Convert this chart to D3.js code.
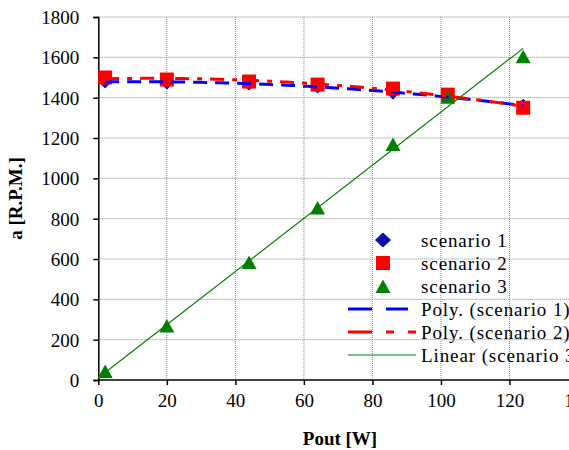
<!DOCTYPE html>
<html>
<head>
<meta charset="utf-8">
<script src="https://cdn.jsdelivr.net/npm/d3@7"></script>
<style>
  body { margin: 0; background: #fff; overflow: hidden; }
  svg { display: block; }
</style>
</head>
<body>
<div id="chart"></div>
<script>
'use strict';

// values
const pout = [2, 20, 44, 64, 86, 102, 124];
const scenario1 = [1480, 1475, 1470, 1455, 1425, 1405, 1360];
const scenario2 = [1500, 1490, 1480, 1465, 1445, 1415, 1350];
const scenario3 = [40, 265, 580, 850, 1165, 1400, 1600];
const xTicks = [0, 20, 40, 60, 80, 100, 120, 140];
const yTicks = [0, 200, 400, 600, 800, 1000, 1200, 1400, 1600, 1800];
const legendLabels = ['scenario 1', 'scenario 2', 'scenario 3',
    'Poly. (scenario 1)', 'Poly. (scenario 2)', 'Linear (scenario 3)'];

const width = 569, height = 450;
const fontFamily = '"Liberation Serif", "Times New Roman", serif';
const fontSize = '19px';
const svg = d3.select('#chart').append('svg')
    .attr('width', width).attr('height', height);

const x = d3.scaleLinear().domain([0, 140]).range([98.3, 578]);
const y = d3.scaleLinear().domain([0, 1800]).range([380, 17]);

// marker shapes
const diamond = 'M0,-6.5L6.5,0L0,6.5L-6.5,0Z';
const triangle = 'M0,-7.5L7.5,6L-7.5,6Z';

// least squares polynomial fit (trendlines like the spreadsheet does)
function polyFit(xs, ys, order) {
    let n = order + 1;
    let A = [], b = [];
    for (let i = 0; i < n; i++) {
        A.push([]);
        for (let j = 0; j < n; j++) {
            A[i].push(d3.sum(xs, xv => Math.pow(xv, i + j)));
        }
        b.push(d3.sum(xs, (xv, k) => ys[k] * Math.pow(xv, i)));
    }
    // gaussian elimination
    for (let i = 0; i < n; i++) {
        for (let k = i + 1; k < n; k++) {
            let f = A[k][i] / A[i][i];
            for (let j = i; j < n; j++) A[k][j] -= f * A[i][j];
            b[k] -= f * b[i];
        }
    }
    let c = new Array(n).fill(0);
    for (let i = n - 1; i >= 0; i--) {
        let s = b[i];
        for (let j = i + 1; j < n; j++) s -= A[i][j] * c[j];
        c[i] = s / A[i][i];
    }
    return xv => c.reduce((acc, ci, i) => acc + ci * Math.pow(xv, i), 0);
}

// grid
let grid = svg.append('g').attr('class', 'grid');
grid.selectAll('.hgrid')
    .data(yTicks.filter(d => d > 0))
    .enter().append('line')
    .attr('x1', x(0)).attr('x2', width)
    .attr('y1', d => y(d)).attr('y2', d => y(d))
    .style('stroke', '#888').style('stroke-dasharray', '1,1').style('stroke-width', 1);
grid.selectAll('.vgrid')
    .data(xTicks.filter(d => d > 0))
    .enter().append('line')
    .attr('x1', d => x(d)).attr('x2', d => x(d))
    .attr('y1', y(0)).attr('y2', y(1800))
    .style('stroke', '#888').style('stroke-dasharray', '1,1').style('stroke-width', 1);

// axes
let xAxis = svg.append('g')
    .attr('transform', 'translate(0,' + y(0) + ')')
    .call(d3.axisBottom(x).tickValues(xTicks).tickSize(5).tickPadding(9).tickFormat(d3.format('d')));
let yAxis = svg.append('g')
    .attr('transform', 'translate(' + x(0) + ',0)')
    .call(d3.axisLeft(y).tickValues(yTicks).tickSize(5).tickPadding(14).tickFormat(d3.format('d')));

[xAxis, yAxis].forEach(function (ax) {
    ax.attr('font-family', fontFamily).attr('font-size', fontSize);
    ax.select('.domain').style('stroke', '#000').style('stroke-width', 1.5);
    ax.selectAll('.tick line').style('stroke', '#000').style('stroke-width', 1.5);
    ax.selectAll('.tick text')
        .style('font-family', fontFamily)
        .style('font-size', fontSize).style('fill', '#000');
});
xAxis.select('.domain').attr('d', 'M' + x(0) + ',0H' + width);
yAxis.selectAll('.tick text').attr('dy', '0.35em');

svg.append('text')
    .attr('x', 340).attr('y', 445)
    .attr('text-anchor', 'middle')
    .style('font-family', fontFamily)
    .style('font-size', fontSize).style('font-weight', 'bold')
    .text('Pout [W]');
svg.append('text')
    .attr('transform', 'translate(22,' + y(900) + ') rotate(-90)')
    .attr('text-anchor', 'middle')
    .style('font-family', fontFamily)
    .style('font-size', fontSize).style('font-weight', 'bold')
    .text('a [R.P.M.]');

// trendlines
let line = d3.line().x(d => x(d[0])).y(d => y(d[1]));
let xs = d3.range(pout[0], pout[pout.length - 1] + 0.5, 1);

let fit1 = polyFit(pout, scenario1, 2);
let fit2 = polyFit(pout, scenario2, 2);
let fit3 = polyFit(pout, scenario3, 1);

// markers
let markers = svg.append('g').attr('class', 'markers');
markers.selectAll('.s1')
    .data(pout.map((p, i) => [p, scenario1[i]]))
    .enter().append('path')
    .attr('d', diamond)
    .attr('transform', d => 'translate(' + x(d[0]) + ',' + y(d[1]) + ')')
    .style('fill', '#1010a0').style('stroke', '#0000ff').style('stroke-width', 1);
markers.selectAll('.s2')
    .data(pout.map((p, i) => [p, scenario2[i]]))
    .enter().append('rect')
    .attr('x', d => x(d[0]) - 7).attr('y', d => y(d[1]) - 7)
    .attr('width', 14).attr('height', 14)
    .style('fill', '#ff0000');
markers.selectAll('.s3')
    .data(pout.map((p, i) => [p, scenario3[i]]))
    .enter().append('path')
    .attr('d', triangle)
    .attr('transform', d => 'translate(' + x(d[0]) + ',' + y(d[1]) + ')')
    .style('fill', '#008000');

let trends = svg.append('g').attr('class', 'trends');
trends.append('path')
    .attr('d', line(xs.map(v => [v, fit1(v)])))
    .style('fill', 'none').style('stroke', '#0000ff').style('stroke-width', 3)
    .style('stroke-dasharray', '14,8');
trends.append('path')
    .attr('d', line(xs.map(v => [v, fit2(v)])))
    .style('fill', 'none').style('stroke', '#ff0000').style('stroke-width', 3)
    .style('stroke-dasharray', '14,8,5,8');
trends.append('path')
    .attr('d', line([pout[0], pout[pout.length - 1]].map(v => [v, fit3(v)])))
    .style('fill', 'none').style('stroke', '#008000').style('stroke-width', 1.2);

// legend
let legend = svg.append('g').attr('class', 'legend');
let rows = legend.selectAll('.row')
    .data(legendLabels)
    .enter().append('g')
    .attr('transform', (d, i) => 'translate(0,' + (240 + i * 23) + ')');
rows.append('text')
    .attr('x', 421).attr('dy', '0.35em')
    .style('font-family', fontFamily)
    .style('font-size', fontSize)
    .style('letter-spacing', '0.9px')
    .text(d => d);

legend.append('path')
    .attr('d', 'M0,-7L7.5,0L0,7L-7.5,0Z')
    .attr('transform', 'translate(383,240)')
    .style('fill', '#1010a0').style('stroke', '#0000ff');
legend.append('rect')
    .attr('x', 376).attr('y', 256).attr('width', 14).attr('height', 14)
    .style('fill', '#ff0000');
legend.append('path')
    .attr('d', triangle)
    .attr('transform', 'translate(383,287)')
    .style('fill', '#008000');
legend.append('line')
    .attr('x1', 348).attr('x2', 408).attr('y1', 309).attr('y2', 309)
    .style('stroke', '#0000ff').style('stroke-width', 3).style('stroke-dasharray', '24,14');
legend.append('line')
    .attr('x1', 348).attr('x2', 416).attr('y1', 332).attr('y2', 332)
    .style('stroke', '#ff0000').style('stroke-width', 3).style('stroke-dasharray', '24,14,8,14');
legend.append('line')
    .attr('x1', 348).attr('x2', 416).attr('y1', 355).attr('y2', 355)
    .style('stroke', '#008000').style('stroke-width', 1.2);
</script>
</body>
</html>
